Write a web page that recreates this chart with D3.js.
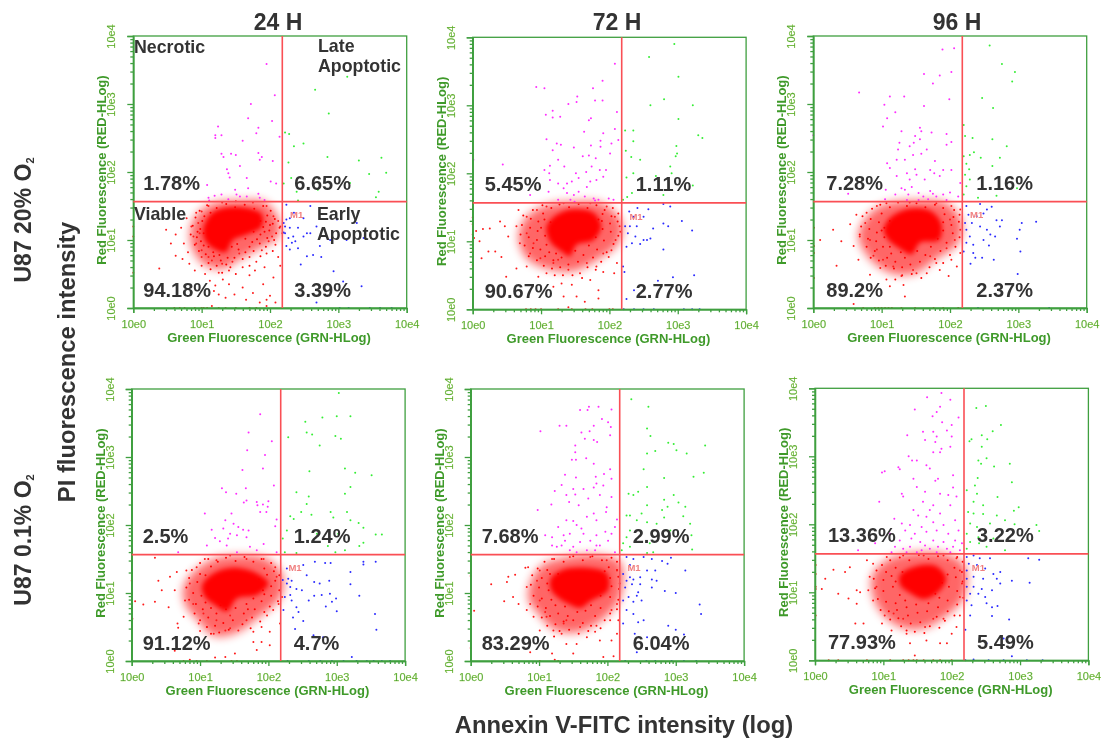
<!DOCTYPE html>
<html>
<head>
<meta charset="utf-8">
<script src="https://cdn.jsdelivr.net/npm/d3@7"></script>
<style>
html, body { margin: 0; background: #fff; }
svg { display: block; filter: blur(0.35px); font-family: "Liberation Sans", Arial, sans-serif; }
</style>
</head>
<body>
<svg width="1108" height="743"></svg>
<script>
"use strict";

// All events are [green, red] in hundredths of a decade (log10 intensity x 100).

var Green1 = [[313,340],[266,321],[286,286],[222,258],[228,256],[235,238],[249,242],[284,222],[330,217],[363,221],[227,214],[345,197],[370,199],[317,184],[231,191],[270,174],[239,171],[359,171],[355,163],[241,158],[220,183]];
var Magenta1 = [[195,359],[207,313],[172,300],[168,279],[203,275],[124,267],[183,265],[180,257],[120,254],[120,250],[129,254],[160,246],[214,252],[129,227],[132,222],[143,227],[150,225],[183,228],[188,222],[185,218],[204,216],[156,209],[137,204],[139,198],[141,192],[108,181],[201,186],[209,183],[166,191],[119,165],[110,162],[111,158],[129,167],[149,174],[151,167],[156,164],[166,164],[183,168],[185,162],[139,160],[192,159],[168,176]];
var Blue1 = [[224,152],[259,150],[235,140],[249,132],[220,125],[222,120],[229,118],[241,118],[254,110],[222,110],[220,111],[227,103],[234,105],[249,105],[259,110],[224,91],[232,96],[229,86],[241,88],[254,76],[263,78],[275,75],[293,54],[245,64],[307,39],[334,32],[268,8],[302,0],[315,0],[346,0],[361,0],[378,0],[327,125],[298,130],[273,91],[312,100],[337,103],[288,100],[268,120],[224,130],[229,132],[237,98]];
var Red1 = [[60,0],[68,0],[75,0],[90,0],[100,0],[103,0],[108,0],[115,3],[125,0],[135,0],[170,0],[180,0],[195,3],[150,0],[0,120],[0,105],[0,52],[38,58],[48,115],[55,95],[62,108],[70,118],[74,95],[62,77],[78,132],[80,82],[72,72],[82,65],[90,55],[92,140],[100,62],[105,50],[112,40],[118,25],[125,20],[135,15],[120,33],[131,42],[140,35],[148,20],[160,30],[165,12],[175,22],[185,8],[195,12],[200,18],[190,35],[208,8],[170,48],[178,55],[192,60],[205,45],[215,62],[212,75],[208,93],[218,110],[215,120],[203,105],[195,80],[180,68],[160,60],[140,55],[125,52],[100,85],[92,95],[85,120],[88,105],[95,125],[100,142],[110,150],[130,155],[150,157],[175,155],[195,150],[205,135],[212,128],[198,98],[188,85],[170,75],[155,80],[130,65],[115,70],[145,68],[110,75],[100,75],[97,110]];
var Cloud1 = [[108,151],[122,147],[136,153],[149,148],[163,152],[177,146],[190,150],[201,143],[97,143],[113,140],[196,136],[207,131],[91,133],[101,128],[194,127],[204,124],[214,118],[87,121],[98,116],[190,119],[199,114],[209,110],[84,108],[93,104],[103,110],[176,112],[186,108],[196,103],[206,100],[90,93],[99,98],[110,90],[164,102],[174,97],[185,95],[194,90],[204,84],[96,84],[106,79],[118,76],[128,70],[144,90],[154,86],[164,82],[176,84],[186,76],[160,72],[148,74],[136,64],[122,62],[110,66],[142,60],[170,62],[130,52],[113,57],[150,50],[117,82],[126,78],[138,74],[152,94],[170,90],[181,101],[192,112],[200,122],[186,128],[104,135],[94,112],[103,92]];
var Halo1 = [[83,110],[93,137],[117,154],[156,158],[192,156],[212,132],[212,105],[185,88],[156,72],[132,58],[107,62],[88,84]];
var Core1 = [[105,125],[117,141],[141,148],[171,146],[188,138],[188,120],[166,108],[146,100],[135,82],[120,86],[107,96],[102,110]];

var Green2 = [[295,390],[258,371],[301,342],[280,309],[260,300],[322,300],[301,280],[223,263],[235,263],[235,247],[330,256],[336,252],[224,233],[232,224],[245,220],[298,240],[299,229],[297,225],[289,210],[225,194],[235,200],[268,196],[291,200],[322,182],[279,168],[233,171],[226,165],[220,161]];
var Magenta2 = [[208,361],[190,336],[93,327],[105,325],[176,325],[153,313],[152,305],[140,302],[179,307],[190,307],[211,290],[117,292],[107,286],[117,282],[128,283],[173,281],[170,278],[208,265],[163,261],[191,259],[108,250],[123,244],[129,242],[117,234],[148,238],[173,241],[187,248],[187,239],[203,244],[213,249],[44,213],[1,220],[125,220],[113,211],[134,210],[161,225],[170,226],[180,222],[201,229],[105,205],[112,200],[151,200],[166,202],[174,210],[186,205],[195,205],[113,190],[125,185],[138,185],[145,188],[155,193],[172,188],[181,190],[191,195],[84,168],[111,173],[125,161],[138,171],[148,168],[155,173],[164,166],[177,163],[184,161],[199,163],[206,161],[143,161],[167,180],[149,158],[179,160],[133,178]];
var Blue2 = [[279,155],[289,151],[229,144],[241,149],[257,147],[235,136],[250,136],[306,130],[279,126],[223,122],[230,122],[240,122],[264,119],[286,122],[321,116],[227,112],[238,107],[260,104],[250,102],[233,97],[225,92],[245,96],[255,102],[279,88],[220,63],[222,55],[324,50],[293,47],[271,42],[236,28],[225,15],[221,0],[236,0],[250,0],[265,0],[309,0],[321,0],[332,0]];
var Red2 = [[78,0],[85,0],[92,0],[100,0],[125,0],[140,3],[145,0],[165,0],[175,0],[200,0],[205,0],[0,135],[0,125],[0,110],[0,100],[0,85],[0,65],[2,105],[5,115],[15,118],[10,100],[23,85],[13,75],[40,129],[47,122],[25,119],[52,107],[33,85],[42,77],[64,60],[49,48],[79,63],[96,48],[108,53],[118,33],[130,38],[145,36],[133,19],[152,19],[164,11],[184,28],[184,16],[172,43],[191,55],[207,53],[211,68],[199,77],[181,63],[157,53],[140,58],[118,68],[99,75],[84,82],[69,97],[64,122],[67,146],[79,136],[94,146],[108,151],[133,156],[172,156],[196,151],[208,136],[215,122],[209,102],[203,87],[216,114],[191,82],[167,68],[125,73],[89,97],[79,112]];
var Cloud2 = [[102,153],[115,149],[127,154],[141,150],[155,155],[168,149],[181,153],[193,146],[205,149],[88,146],[103,141],[190,140],[203,137],[213,141],[74,138],[85,133],[96,129],[189,130],[201,126],[212,129],[72,124],[84,120],[95,115],[190,118],[202,114],[213,108],[70,110],[82,106],[94,102],[106,108],[180,106],[192,101],[206,96],[76,94],[88,90],[99,88],[112,84],[170,94],[182,88],[196,84],[82,78],[94,72],[106,78],[118,72],[130,76],[150,86],[162,80],[176,76],[188,70],[104,64],[116,60],[128,62],[140,66],[154,70],[168,62],[180,58],[146,50],[132,50],[160,46],[120,50],[100,120],[105,132],[114,128],[108,95],[122,82],[178,118],[184,132]];
var Halo2 = [[67,107],[79,136],[108,153],[147,158],[191,155],[218,128],[213,97],[181,72],[147,56],[108,60],[79,75]];
var Core2 = [[108,122],[123,139],[147,147],[177,142],[188,122],[177,102],[152,95],[142,78],[130,85],[113,100]];

var Green3 = [[258,386],[276,359],[295,347],[291,333],[247,309],[263,294],[220,269],[222,253],[233,250],[262,248],[283,238],[220,223],[235,229],[229,225],[245,221],[273,221],[224,212],[228,204],[262,209],[222,196],[229,189],[220,167],[241,162],[268,165],[224,179],[298,176]];
var Magenta3 = [[189,380],[206,382],[162,344],[202,347],[185,342],[175,330],[67,317],[112,311],[133,311],[104,299],[199,307],[162,297],[120,288],[108,279],[102,267],[156,265],[129,260],[0,254],[149,253],[158,260],[173,258],[195,256],[156,248],[126,243],[147,243],[202,244],[195,240],[124,233],[141,238],[166,233],[158,227],[146,225],[108,213],[122,218],[134,218],[178,216],[112,206],[149,204],[171,203],[177,198],[190,203],[202,203],[122,194],[137,198],[151,196],[141,189],[163,189],[185,194],[215,184],[51,168],[106,174],[129,176],[134,174],[144,178],[105,160],[120,167],[139,167],[154,169],[161,164],[171,172],[175,168],[180,164],[190,167],[200,170],[212,164],[137,159],[168,160],[195,159],[154,159]];
var Blue3 = [[244,153],[261,149],[224,150],[254,145],[249,139],[227,137],[239,135],[326,127],[305,125],[268,129],[302,115],[222,125],[232,125],[244,120],[224,115],[254,115],[273,120],[276,129],[259,108],[266,105],[298,102],[229,105],[224,96],[234,93],[249,100],[257,92],[220,83],[234,81],[303,83],[237,74],[247,74],[264,71],[230,65],[299,50],[241,0],[345,0]];
var Red3 = [[10,100],[1,118],[1,91],[1,44],[1,81],[29,115],[41,98],[34,62],[54,123],[63,137],[59,91],[66,71],[83,49],[88,77],[98,59],[107,42],[112,32],[83,100],[68,105],[76,125],[93,150],[78,140],[134,17],[132,34],[129,47],[151,51],[166,51],[185,56],[198,47],[210,61],[215,81],[202,71],[180,66],[146,56],[117,61],[102,71],[59,6],[73,0],[90,0],[95,0],[100,0],[105,0],[110,0],[115,0],[129,0],[149,0],[176,0],[190,0],[212,0],[200,130],[215,145],[215,115],[207,100],[107,154],[141,155],[180,154],[202,150],[195,88],[171,76],[93,86]];
var Cloud3 = [[98,152],[112,148],[124,155],[137,150],[151,154],[164,148],[178,152],[190,147],[206,144],[86,146],[100,139],[192,138],[205,134],[214,137],[72,135],[84,131],[96,126],[190,126],[202,122],[213,127],[70,120],[82,116],[93,111],[104,118],[190,114],[204,110],[214,104],[68,108],[80,102],[92,98],[104,104],[182,102],[195,96],[208,90],[78,90],[90,84],[102,90],[114,80],[172,90],[186,84],[200,78],[84,74],[96,70],[108,74],[120,68],[134,74],[152,84],[164,78],[178,72],[190,66],[106,62],[118,58],[130,60],[142,64],[156,68],[170,60],[144,50],[130,48],[158,44],[120,42],[112,128],[100,114],[176,128],[112,90],[128,82]];
var Halo3 = [[66,105],[78,134],[102,152],[146,158],[195,154],[217,127],[212,96],[180,72],[146,50],[112,52],[83,72]];
var Core3 = [[103,115],[113,133],[141,146],[171,143],[187,125],[184,100],[156,96],[144,79],[124,89],[110,100]];

var Green4 = [[303,394],[320,360],[300,360],[279,358],[254,352],[256,336],[264,333],[229,329],[298,331],[306,327],[275,317],[312,283],[327,277],[351,273],[260,279],[320,256],[241,248],[259,242],[312,246],[256,231],[291,219],[232,213],[248,219],[263,215],[295,211],[315,219],[237,209],[332,203],[339,196],[320,207],[357,186],[366,186],[227,192],[271,187],[302,187],[339,174],[333,169],[287,169],[298,160],[312,163],[221,180],[241,159],[224,160]];
var Magenta4 = [[188,363],[171,336],[205,323],[169,310],[195,303],[162,281],[192,283],[208,258],[132,254],[167,254],[138,248],[153,246],[168,236],[164,233],[183,234],[184,229],[192,230],[200,235],[199,227],[188,219],[197,219],[107,217],[146,217],[137,207],[212,208],[210,198],[117,193],[134,195],[149,202],[156,197],[163,193],[171,192],[144,187],[122,181],[154,185],[168,182],[110,170],[129,176],[139,170],[173,168],[193,172],[68,160],[154,160],[183,163],[212,160],[141,180]];
var Blue4 = [[251,141],[268,146],[283,144],[291,144],[339,146],[339,142],[357,146],[227,136],[320,131],[256,126],[320,113],[289,118],[267,116],[275,114],[221,119],[229,121],[234,118],[227,114],[232,109],[241,106],[249,104],[224,94],[232,97],[234,89],[259,89],[267,96],[278,97],[290,99],[333,96],[299,92],[293,87],[284,80],[241,79],[222,75],[244,72],[300,73],[356,69],[236,64],[251,59],[358,46],[266,38],[280,35],[239,47],[228,0],[259,0],[276,0],[293,0],[322,6],[310,0],[329,0],[344,0],[354,0],[366,0],[378,0]];
var Red4 = [[0,118],[0,99],[1,62],[5,88],[17,83],[34,152],[39,118],[34,87],[44,104],[56,124],[54,79],[66,131],[63,104],[67,55],[68,49],[76,65],[63,15],[85,2],[76,0],[95,0],[100,44],[98,55],[110,50],[120,40],[137,45],[144,48],[156,45],[178,43],[190,50],[202,43],[178,28],[122,5],[137,6],[151,11],[183,16],[190,28],[202,23],[110,0],[146,0],[154,0],[207,75],[217,55],[215,84],[220,94],[198,67],[168,60],[80,133],[85,114],[78,89],[90,84],[95,138],[107,150],[124,148],[144,155],[168,150],[193,150],[210,138],[212,124],[105,70],[124,60],[144,67]];
var Cloud4 = [[112,150],[126,146],[138,152],[152,147],[165,153],[178,146],[190,150],[204,144],[100,144],[116,139],[194,136],[208,132],[216,126],[88,134],[100,128],[198,127],[210,118],[84,122],[96,116],[204,110],[216,104],[80,108],[90,100],[102,96],[192,104],[204,96],[214,88],[84,90],[94,84],[108,86],[178,92],[190,88],[202,80],[92,70],[104,76],[116,78],[130,82],[168,84],[180,76],[194,72],[100,60],[112,64],[124,70],[138,76],[152,78],[164,70],[176,64],[188,58],[110,50],[122,52],[134,56],[148,60],[162,54],[174,48],[128,42],[142,46],[116,40],[108,126],[114,98],[186,120],[194,98],[170,76]];
var Halo4 = [[76,109],[90,130],[120,150],[159,155],[198,150],[221,126],[218,94],[183,62],[154,42],[120,37],[95,62],[78,84]];
var Core4 = [[103,111],[120,129],[149,137],[183,129],[200,114],[183,97],[154,92],[139,73],[122,82],[107,94]];

var Green5 = [[235,385],[260,374],[258,342],[263,331],[289,321],[297,319],[343,317],[301,310],[270,309],[258,305],[316,305],[253,282],[341,277],[326,271],[283,269],[258,256],[245,249],[231,246],[238,244],[297,244],[283,237],[304,233],[314,227],[288,227],[258,229],[280,222],[228,214],[233,214],[250,217],[283,211],[311,213],[243,207],[258,204],[272,202],[321,202],[233,192],[228,182],[323,185],[292,192],[223,173],[243,175],[262,173],[324,164],[258,159],[267,160],[221,163],[233,168]];
var Magenta5 = [[173,374],[160,369],[187,374],[171,369],[206,370],[192,356],[180,346],[201,351],[130,346],[140,346],[102,338],[162,336],[174,338],[205,344],[167,327],[180,325],[185,322],[204,332],[153,317],[153,307],[148,296],[154,296],[169,298],[180,290],[204,282],[183,271],[195,275],[206,268],[138,274],[154,270],[184,261],[133,259],[150,253],[165,253],[180,255],[194,258],[123,250],[140,244],[153,245],[189,244],[172,239],[206,241],[118,230],[144,234],[158,229],[199,226],[98,222],[198,219],[180,217],[170,212],[140,207],[150,206],[184,207],[214,208],[128,197],[162,195],[155,200],[145,187],[197,190],[206,187],[109,185],[119,182],[136,185],[165,187],[184,185],[211,197],[126,168],[133,170],[150,168],[160,175],[175,177],[189,170],[201,177],[119,170],[138,177],[155,160],[182,163],[184,170],[211,160],[145,163],[170,163]];
var Blue5 = [[228,153],[238,150],[253,153],[265,150],[280,147],[293,152],[288,143],[233,141],[258,133],[270,133],[314,133],[223,128],[233,123],[228,118],[238,120],[248,123],[265,120],[272,118],[226,108],[236,113],[245,101],[243,96],[248,113],[265,108],[284,103],[231,94],[223,89],[238,87],[250,89],[300,100],[335,83],[337,69],[228,75],[238,69],[253,60],[245,57],[223,55],[289,52],[300,46],[312,39],[240,40],[258,35],[243,13],[226,0],[257,0],[270,0],[294,0],[312,0],[330,0]];
var Red5 = [[0,125],[0,94],[5,74],[0,19],[30,113],[49,88],[53,116],[55,124],[65,127],[62,94],[70,84],[80,137],[84,138],[82,109],[87,84],[92,65],[109,72],[101,45],[121,45],[133,40],[140,60],[119,11],[123,2],[128,0],[140,25],[155,25],[150,11],[87,13],[101,0],[170,35],[189,30],[182,43],[206,30],[209,7],[194,6],[214,40],[216,60],[204,60],[184,52],[160,50],[97,118],[101,133],[119,150],[145,153],[175,153],[199,148],[214,133],[218,114],[214,84],[206,75],[111,65],[136,55],[82,75],[101,89]];
var Cloud5 = [[108,146],[122,150],[136,146],[150,154],[164,148],[178,154],[192,148],[206,152],[214,146],[98,136],[112,134],[202,138],[214,134],[90,126],[104,122],[116,128],[204,122],[216,124],[88,112],[100,108],[114,104],[206,110],[217,106],[92,96],[104,92],[118,90],[190,96],[204,94],[216,90],[98,80],[110,78],[124,82],[138,80],[176,82],[190,78],[204,70],[214,76],[104,64],[116,66],[128,70],[142,66],[156,72],[168,74],[182,66],[196,60],[112,52],[124,54],[136,58],[150,60],[164,56],[176,52],[190,48],[130,44],[144,46],[158,40],[122,36],[172,44],[184,124],[192,110],[112,114],[126,108],[196,132],[128,128]];
var Halo5 = [[87,114],[104,140],[136,152],[184,156],[219,145],[219,94],[194,62],[155,42],[121,47],[97,72],[85,89]];
var Core5 = [[117,121],[134,134],[170,137],[199,129],[201,104],[175,88],[160,78],[145,83],[128,93],[117,106]];

var Green6 = [[236,371],[250,374],[272,346],[260,337],[244,331],[229,325],[226,322],[252,325],[244,314],[239,294],[243,289],[251,297],[262,285],[285,289],[238,268],[288,262],[222,250],[234,257],[237,245],[267,240],[298,225],[291,220],[232,233],[246,228],[224,218],[232,216],[246,215],[266,213],[278,206],[324,199],[328,190],[292,200],[227,201],[237,196],[256,201],[222,186],[239,181],[227,174],[240,172],[222,164],[251,167],[278,162],[261,179]];
var Magenta6 = [[164,387],[185,393],[146,369],[198,383],[183,373],[178,365],[172,359],[210,357],[186,350],[200,346],[193,338],[158,336],[173,336],[135,331],[178,329],[200,329],[161,324],[176,321],[173,306],[185,311],[183,306],[198,314],[137,300],[142,294],[149,294],[122,284],[124,281],[163,287],[168,282],[102,278],[98,276],[144,267],[180,267],[176,264],[202,272],[149,255],[202,254],[127,245],[161,248],[183,245],[195,243],[94,233],[129,241],[158,233],[173,228],[207,241],[144,221],[168,221],[183,216],[198,228],[151,213],[163,211],[116,208],[127,201],[139,199],[156,196],[173,203],[188,199],[205,206],[110,186],[132,191],[146,186],[163,189],[178,191],[195,186],[210,191],[88,172],[63,162],[124,176],[141,179],[154,174],[173,176],[188,174],[205,176],[112,159],[129,164],[139,167],[149,159],[161,169],[168,164],[180,167],[193,164],[202,167],[215,172],[212,162],[134,159],[156,162],[178,159],[198,159],[117,167]];
var Blue6 = [[222,152],[232,154],[241,150],[256,150],[312,150],[328,148],[225,142],[237,140],[249,135],[222,132],[261,127],[271,130],[222,120],[232,123],[246,120],[266,120],[288,117],[314,114],[271,113],[222,108],[232,108],[244,105],[259,103],[227,98],[239,98],[249,93],[222,88],[251,84],[267,80],[229,81],[259,78],[227,66],[259,65],[284,60],[220,45],[276,32],[251,25],[232,1],[220,0],[254,0],[276,0],[288,6],[310,0],[333,0]];
var Red6 = [[1,140],[1,127],[1,108],[1,66],[1,105],[27,133],[15,120],[10,105],[44,130],[51,137],[34,98],[49,91],[61,103],[66,100],[59,54],[71,54],[61,83],[76,147],[80,123],[85,142],[78,103],[90,108],[85,88],[98,54],[102,66],[115,69],[112,44],[134,39],[139,25],[146,7],[161,49],[163,29],[183,25],[193,25],[200,39],[212,66],[207,49],[188,61],[173,61],[129,61],[20,0],[34,0],[76,0],[110,0],[129,0],[137,0],[144,0],[149,0],[159,0],[173,0],[183,0],[200,0],[212,132],[215,113],[212,93],[105,152],[129,154],[159,154],[188,154],[207,150]];
var Cloud6 = [[110,147],[124,151],[138,147],[152,155],[166,149],[180,153],[194,147],[208,152],[216,145],[98,140],[90,132],[104,130],[118,136],[204,136],[215,130],[86,120],[100,118],[112,124],[194,126],[206,122],[216,116],[88,106],[100,102],[114,108],[124,96],[196,108],[208,102],[217,92],[92,90],[104,86],[118,84],[132,88],[182,92],[194,88],[208,82],[96,74],[108,72],[120,74],[134,78],[148,82],[166,84],[180,78],[194,72],[204,66],[110,60],[122,62],[136,66],[150,70],[164,72],[178,64],[190,58],[126,50],[140,54],[154,56],[168,50],[182,48],[146,42],[134,44],[160,40],[118,116],[128,130],[186,114],[176,98]];
var Halo6 = [[83,122],[105,147],[144,158],[193,156],[219,139],[218,93],[193,66],[154,46],[120,51],[90,81]];
var Core6 = [[124,125],[147,138],[178,138],[192,120],[180,100],[159,90],[139,99],[125,110]];

// Percent in each quadrant: upper left, upper right, lower left, lower right.
var Pct1 = ["1.78%", "6.65%", "94.18%", "3.39%"];
var Pct2 = ["5.45%", "1.11%", "90.67%", "2.77%"];
var Pct3 = ["7.28%", "1.16%", "89.2%", "2.37%"];
var Pct4 = ["2.5%", "1.24%", "91.12%", "4.7%"];
var Pct5 = ["7.68%", "2.99%", "83.29%", "6.04%"];
var Pct6 = ["13.36%", "3.22%", "77.93%", "5.49%"];

var GateX = 2.18;
var GateY = 1.565;
var Decades = [0, 1, 2, 3, 4];
var Multiples = [2, 3, 4, 5, 6, 7, 8, 9];

// Constants.

var PlotW = 273.4;
var PlotH = 272;
var AxisColor = "#3f9f3f";
var LabelColor = "#3f9a2a";
var TextColor = "#333";
var GateColor = "#fa4f55";

var Panels = [
    {px: 133.3, py: 36, green: Green1, magenta: Magenta1, blue: Blue1, red: Red1, cloud: Cloud1, halo: Halo1, core: Core1, pct: Pct1, dl: 10, dr: 161},
    {px: 472.7, py: 37.3, green: Green2, magenta: Magenta2, blue: Blue2, red: Red2, cloud: Cloud2, halo: Halo2, core: Core2, pct: Pct2, dl: 12, dr: 163},
    {px: 813.3, py: 36, green: Green3, magenta: Magenta3, blue: Blue3, red: Red3, cloud: Cloud3, halo: Halo3, core: Core3, pct: Pct3, dl: 13, dr: 163},
    {px: 131.7, py: 389, green: Green4, magenta: Magenta4, blue: Blue4, red: Red4, cloud: Cloud4, halo: Halo4, core: Core4, pct: Pct4, dl: 11, dr: 162},
    {px: 470.7, py: 389, green: Green5, magenta: Magenta5, blue: Blue5, red: Red5, cloud: Cloud5, halo: Halo5, core: Core5, pct: Pct5, dl: 11, dr: 162},
    {px: 815, py: 388.3, green: Green6, magenta: Magenta6, blue: Blue6, red: Red6, cloud: Cloud6, halo: Halo6, core: Core6, pct: Pct6, dl: 13, dr: 162}
];

var svg = d3.select("svg");

// Soft edges for the overplotted part of the cloud.
var defs = svg.append("defs");
var AddBlur = function(id, sd){
    defs.append("filter").attr("id", id)
        .attr("x", "-40%").attr("y", "-40%").attr("width", "180%").attr("height", "180%")
        .append("feGaussianBlur").attr("stdDeviation", sd);
};
AddBlur("haloBlur", 5);
AddBlur("coreBlur", 2.5);

var x = d3.scaleLinear().domain([0, 4]).range([0, PlotW]);
var y = d3.scaleLinear().domain([0, 4]).range([PlotH, 0]);

// Log minor ticks between the decades.
var minorTicks = [];
Decades.slice(0, 4).forEach(function(d){
    Multiples.forEach(function(m){ minorTicks.push(d + Math.log10(m)); });
});

var outline = d3.line()
    .x(function(d){ return x(d[0]/100); })
    .y(function(d){ return y(d[1]/100); })
    .curve(d3.curveCatmullRomClosed);

var DrawDots = function(g, pts, color){
    g.append("g").selectAll("circle")
        .data(pts)
        .enter()
        .append("circle")
            .attr("cx", function(d){ return x(d[0]/100); })
            .attr("cy", function(d){ return y(d[1]/100); })
            .attr("r", 1)
            .attr("fill", color);
};

var StyleAxis = function(a){
    a.selectAll("path,line").attr("stroke", AxisColor).attr("stroke-width", 1.3);
    a.selectAll("text")
        .attr("fill", LabelColor)
        .attr("stroke", "#a8d860").attr("stroke-width", 0.25)
        .style("font-family", "'Liberation Sans', Arial, sans-serif")
        .style("font-size", "11px");
};

var DrawPanel = function(p){
    var g = svg.append("g").attr("transform", "translate(" + p.px + "," + p.py + ")");

    // Overplotted part of the red cloud, then single events.
    g.append("path").attr("d", outline(p.halo)).attr("fill", "#ff0000").attr("opacity", 0.6).attr("filter", "url(#haloBlur)");
    g.append("path").attr("d", outline(p.core)).attr("fill", "#ff0000").attr("filter", "url(#coreBlur)");
    DrawDots(g, p.cloud, "#ff0000");
    DrawDots(g, p.red, "#ff1a1a");
    DrawDots(g, p.magenta, "#ff2cff");
    DrawDots(g, p.green, "#35ee35");
    DrawDots(g, p.blue, "#2a2aff");

    // Frame.
    g.append("rect")
        .attr("width", PlotW).attr("height", PlotH)
        .attr("fill", "none").attr("stroke", AxisColor).attr("stroke-width", 1.3);

    // X axis.
    var xAxis = g.append("g").attr("transform", "translate(0," + PlotH + ")");
    xAxis.call(d3.axisBottom(x).tickValues(Decades).tickSizeOuter(0).tickSize(5)
        .tickFormat(function(d){ return "10e" + d; }));
    StyleAxis(xAxis);
    xAxis.selectAll("text").attr("y", 12);
    var xMinor = g.append("g").attr("transform", "translate(0," + PlotH + ")");
    xMinor.call(d3.axisBottom(x).tickValues(minorTicks).tickSize(3).tickSizeOuter(0).tickFormat(""));
    StyleAxis(xMinor);

    // Y axis, labels turned along the axis.
    var yAxis = g.append("g");
    yAxis.call(d3.axisLeft(y).tickValues(Decades).tickSizeOuter(0).tickSize(6)
        .tickFormat(function(d){ return "10e" + d; }));
    StyleAxis(yAxis);
    yAxis.selectAll("text")
        .attr("transform", "rotate(-90)")
        .attr("x", 0).attr("y", -18).attr("dy", 0)
        .style("text-anchor", "middle");
    var yMinor = g.append("g");
    yMinor.call(d3.axisLeft(y).tickValues(minorTicks).tickSize(3).tickSizeOuter(0).tickFormat(""));
    StyleAxis(yMinor);

    // Axis names.
    g.append("text")
        .attr("x", PlotW/2 - 1).attr("y", PlotH + 34)
        .attr("text-anchor", "middle")
        .attr("fill", LabelColor)
        .style("font-size", "13px").style("font-weight", "bold")
        .text("Green Fluorescence (GRN-HLog)");
    g.append("text")
        .attr("transform", "translate(-27," + (PlotH/2 - 2) + ") rotate(-90)")
        .attr("text-anchor", "middle")
        .attr("fill", LabelColor)
        .style("font-size", "13px").style("font-weight", "bold")
        .text("Red Fluorescence (RED-HLog)");

    // Quadrant gates.
    g.append("line")
        .attr("x1", x(GateX)).attr("x2", x(GateX)).attr("y1", 0).attr("y2", PlotH)
        .attr("stroke", GateColor).attr("stroke-width", 1.6);
    g.append("line")
        .attr("x1", 0).attr("x2", PlotW).attr("y1", y(GateY)).attr("y2", y(GateY))
        .attr("stroke", GateColor).attr("stroke-width", 1.8);

    g.append("text")
        .attr("x", x(2.39)).attr("y", y(1.32))
        .attr("text-anchor", "middle")
        .attr("fill", "#f08080")
        .style("font-size", "9.5px").style("font-weight", "bold")
        .text("M1");

    // Percent labels.
    var pctX = [p.dl, p.dr, p.dl, p.dr];
    var pctY = [PlotH - 118, PlotH - 118, PlotH - 11, PlotH - 11];
    g.selectAll("text.pct")
        .data(p.pct)
        .enter()
        .append("text")
            .attr("class", "pct")
            .attr("x", function(d, i){ return pctX[i]; })
            .attr("y", function(d, i){ return pctY[i]; })
            .attr("fill", TextColor)
            .style("font-size", "20px").style("font-weight", "bold")
            .text(function(d){ return d; });
    return g;
};

Panels.forEach(DrawPanel);

// Column titles.
var Titles = ["24 H", "72 H", "96 H"];
var TitleX = [278, 617, 957];
svg.selectAll("text.title")
    .data(Titles)
    .enter()
    .append("text")
        .attr("class", "title")
        .attr("x", function(d, i){ return TitleX[i]; })
        .attr("y", 30)
        .attr("text-anchor", "middle")
        .attr("fill", TextColor)
        .style("font-size", "23px").style("font-weight", "bold")
        .text(function(d){ return d; });

// Quadrant names in the first panel.
var QuadNames = ["Necrotic", "Late", "Apoptotic", "Viable", "Early", "Apoptotic"];
var QuadX = [134, 318, 318, 134, 317, 317];
var QuadY = [53, 52, 72, 220, 220, 240];
svg.selectAll("text.quad")
    .data(QuadNames)
    .enter()
    .append("text")
        .attr("class", "quad")
        .attr("x", function(d, i){ return QuadX[i]; })
        .attr("y", function(d, i){ return QuadY[i]; })
        .attr("fill", TextColor)
        .style("font-size", "17.8px").style("font-weight", "bold")
        .text(function(d){ return d; });

// Row labels with subscript.
var RowLabel = function(cy, label){
    var t = svg.append("text")
        .attr("transform", "translate(31," + cy + ") rotate(-90)")
        .attr("text-anchor", "middle")
        .attr("fill", TextColor)
        .style("font-size", "23px").style("font-weight", "bold");
    t.append("tspan").text(label + " O");
    t.append("tspan").attr("dy", 3).style("font-size", "11px").text("2");
};
RowLabel(220, "U87 20%");
RowLabel(540, "U87 0.1%");

svg.append("text")
    .attr("transform", "translate(75,362) rotate(-90)")
    .attr("text-anchor", "middle")
    .attr("fill", TextColor)
    .style("font-size", "23.8px").style("font-weight", "bold")
    .text("PI fluorescence intensity");

svg.append("text")
    .attr("x", 624).attr("y", 733)
    .attr("text-anchor", "middle")
    .attr("fill", TextColor)
    .style("font-size", "23.8px").style("font-weight", "bold")
    .text("Annexin V-FITC intensity (log)");
</script>
</body>
</html>
